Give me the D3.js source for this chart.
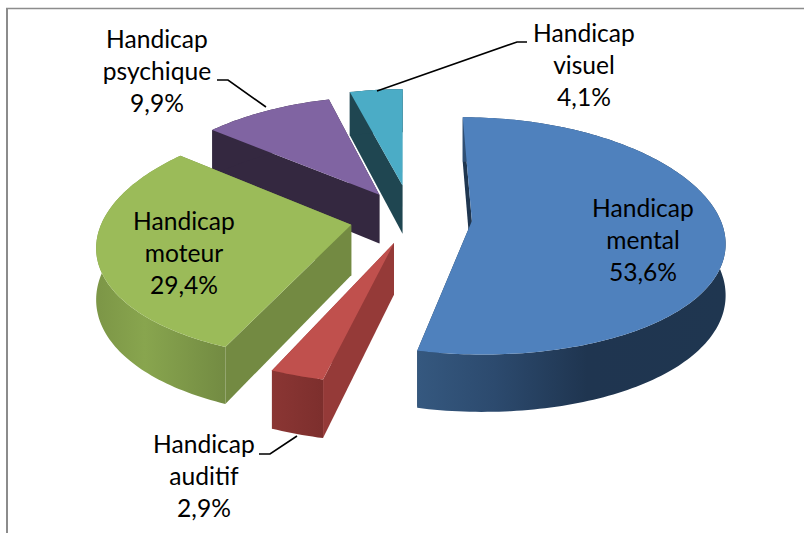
<!DOCTYPE html>
<html><head><meta charset="utf-8">
<script src="https://cdn.jsdelivr.net/npm/d3@7"></script>
<style>html,body{margin:0;padding:0;background:#fff}svg{display:block}
text{font-family:Lato,"Open Sans",sans-serif;font-size:24.6px;fill:#000;text-anchor:middle}</style>
</head><body><svg id="c" width="804" height="533"></svg>
<script>
const categories = ["Handicap mental","Handicap auditif","Handicap moteur","Handicap psychique","Handicap visuel"];
const shares = [53.6,2.9,29.4,9.9,4.1];
const shareLabels = ["53,6%","2,9%","29,4%","9,9%","4,1%"];
const topColors = ["#4f81bd","#c0504d","#9bbb59","#8064a2","#4bacc6"];
const cutColors = ["#1f3650","#953a38","#738a42","#342840","#1f4651"];
const explode = [60,56,62,62,74];
const drawOrder = [4,3,2,0,1];

const W=804,H=533,cx=412,cy=218,R=248,K=116,P=0.125,PX=0.155,DEPTH=50;
const svg=d3.select("#c");
const defs=svg.append("defs");

function project(X,Y,drop){const s=1/(1-P*Y),sx=1/(1-PX*Y);return [cx+X*sx,cy+K*Y*s+(drop?DEPTH*s:0)];}
const arcs=d3.pie().sort(null).value(d=>d).startAngle(-0.005).endAngle(2*Math.PI-0.005)(shares);

function geometry(i){
  const a=arcs[i],mid=(a.startAngle+a.endAngle)/2;
  const ox=explode[i]*Math.sin(mid),oy=-explode[i]*Math.cos(mid)*0.98/R;
  const n=Math.max(2,Math.ceil((a.endAngle-a.startAngle)/0.02));
  const angs=d3.range(n+1).map(k=>a.startAngle+(a.endAngle-a.startAngle)*k/n);
  const rim=angs.map(t=>[ox+R*Math.sin(t),oy-Math.cos(t)]);
  return {apex:[ox,oy],rim};
}
const line=d3.line();
const P0=p=>project(p[0],p[1],false), P1=p=>project(p[0],p[1],true);

function grad(id,x1,x2,stops){
  const g=defs.append("linearGradient").attr("id",id).attr("gradientUnits","userSpaceOnUse")
    .attr("x1",x1).attr("x2",x2).attr("y1",0).attr("y2",0);
  stops.forEach(s=>g.append("stop").attr("offset",s[0]).attr("stop-color",s[1]));
  return `url(#${id})`;
}
const rimFills=[
  grad("g0",418,725,[[0,"#35587f"],[0.25,"#2c4a6e"],[0.55,"#1f3550"],[1,"#1f3650"]]),
  grad("g1",270,322,[[0,"#8b3634"],[1,"#7d2f2d"]]),
  grad("g2",100,228,[[0,"#7d9747"],[0.35,"#88a54e"],[1,"#728a42"]]),
  "#342840","#1f4651"
];

const gFrame=svg.append("g");
gFrame.append("line").attr("x1",7).attr("x2",7).attr("y1",8).attr("y2",H).attr("stroke","#8c8c8c").attr("stroke-width",2);
gFrame.append("line").attr("x1",6).attr("x2",W).attr("y1",8.5).attr("y2",8.5).attr("stroke","#8c8c8c").attr("stroke-width",1.5);

drawOrder.forEach(i=>{
  const g=geometry(i),first=g.rim[0],last=g.rim[g.rim.length-1];
  const gs=svg.append("g").attr("class","slice");
  const face=(a,b)=>gs.append("path").attr("d",line([P0(a),P0(b),P1(b),P1(a)])+"Z").attr("fill",cutColors[i]);
  face(g.apex,last);
  face(g.apex,first);
  gs.append("path").attr("d",line(g.rim.map(P0).concat(g.rim.map(P1).reverse()))+"Z").attr("fill",rimFills[i]);
  gs.append("path").attr("d",line([P0(g.apex)].concat(g.rim.map(P0)))+"Z").attr("fill",topColors[i]);
});

const leaders=[[[527,42],[517,42],[377,91]],[[217,80],[228,80],[266,107]],[[259,454],[270,454],[297,436]]];
leaders.forEach(l=>svg.append("path").attr("d",line(l)).attr("fill","none").attr("stroke","#000").attr("stroke-width",1.6));

const labelPos=[[643,217],[204,453],[184,230],[157,48],[584,42]];
categories.forEach((c,i)=>{
  const t=svg.append("text").attr("x",labelPos[i][0]).attr("y",labelPos[i][1]);
  const parts=c.split(" ").concat(shareLabels[i]);
  parts.forEach((s,k)=>t.append("tspan").attr("x",labelPos[i][0]).attr("dy",k?32:0).text(s));
});
</script></body></html>
